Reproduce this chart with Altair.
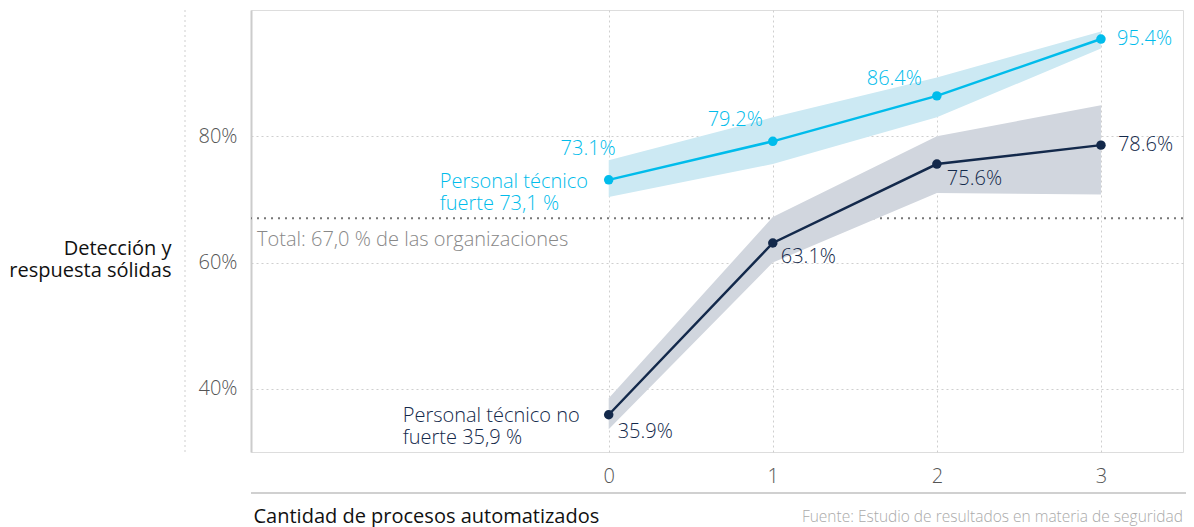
import altair as alt
import pandas as pd

# ---- data ----
steps = [0, 1, 2, 3]
strong = [73.1, 79.2, 86.4, 95.4]
strong_lo = [70.4, 75.6, 83.0, 93.9]
strong_hi = [76.2, 83.0, 89.3, 96.6]
weak = [35.9, 63.1, 75.6, 78.6]
weak_lo = [33.6, 60.0, 71.0, 70.8]
weak_hi = [38.5, 67.2, 80.0, 84.9]
total_value = [67.0]
x_ticks = [0, 1, 2, 3]
y_ticks = [40, 60, 80]

CYAN = "#00bceb"
NAVY = "#13294b"
CYAN_BAND = "#cce9f3"
NAVY_BAND = "#d1d6de"
GRID = "#cfcfcf"
FONT = "Open Sans"
FS = 20
FW = 300

W, H = 932, 442

df_s = pd.DataFrame({"x": steps, "v": strong, "lo": strong_lo, "hi": strong_hi,
                     "label": [f"{v:.1f}%" for v in strong]})
df_w = pd.DataFrame({"x": steps, "v": weak, "lo": weak_lo, "hi": weak_hi,
                     "label": [f"{v:.1f}%" for v in weak]})
df_t = pd.DataFrame({"v": total_value})

x_scale = alt.Scale(domain=[-2.18, 3.5], nice=False, zero=False)
y_scale = alt.Scale(domain=[30, 100], nice=False, zero=False)

x_axis = alt.Axis(values=x_ticks, grid=True, gridDash=[2, 3], gridColor=GRID, gridWidth=1,
                  domain=False, ticks=False, labelPadding=14, labelFontSize=FS,
                  labelFontWeight=FW, labelColor="#555555", labelFont=FONT,
                  title="Cantidad de procesos automatizados", titleFont=FONT,
                  titleFontSize=FS, titleFontWeight=400, titleColor="#111111",
                  titleAlign="left", titleX=2, titleY=64, titleBaseline="middle",
                  titleAnchor="start")
y_axis = alt.Axis(values=y_ticks, grid=True, gridDash=[2, 3], gridColor=GRID, gridWidth=1,
                  domain=True, domainColor="#cccccc", domainWidth=2, ticks=False,
                  labelPadding=14, labelFontSize=FS, labelFontWeight=FW,
                  labelColor="#555555", labelFont=FONT,
                  labelExpr="datum.value + '%'",
                  title=["Detección y", "respuesta sólidas"], titleFont=FONT,
                  titleFontSize=FS, titleFontWeight=400, titleColor="#111111",
                  titleAngle=0, titleAlign="right", titleBaseline="middle",
                  titleX=-80, titleY=238, titleLineHeight=22)

X = alt.X("x:Q", scale=x_scale, axis=x_axis)
Y = alt.Y("v:Q", scale=y_scale, axis=y_axis)


def series_layers(df, line_color, band_color):
    base = alt.Chart(df).encode(x=X)
    band = base.mark_area(color=band_color, opacity=1).encode(
        y=alt.Y("lo:Q", scale=y_scale, axis=y_axis), y2="hi:Q")
    line = base.mark_line(color=line_color, strokeWidth=2.5).encode(y=Y)
    pts = base.mark_circle(color=line_color, size=90, opacity=1).encode(y=Y)
    return [band, line, pts]


def label(df, idx, color, align, dx, dy):
    return alt.Chart(df).transform_filter(alt.datum.x == idx).mark_text(
        color=color, align=align, baseline="middle", dx=dx, dy=dy,
        fontSize=FS, fontWeight=FW, font=FONT).encode(x=X, y=Y, text="label:N")


total_rule = alt.Chart(df_t).mark_rule(color="#777777", strokeWidth=2,
                                       strokeDash=[2, 5]).encode(
    y=alt.Y("v:Q", scale=y_scale, axis=y_axis))
total_text = alt.Chart(df_t).mark_text(
    text="Total: 67,0 % de las organizaciones", color="#888888", align="left",
    baseline="middle", dy=22, fontSize=FS, fontWeight=FW, font=FONT).encode(
    x=alt.value(6), y=alt.Y("v:Q", scale=y_scale, axis=y_axis))

left_rule = alt.Chart(df_t).mark_rule(color=GRID, strokeDash=[2, 3], strokeWidth=1).encode(
    x=alt.value(-66), y=alt.value(0), y2=alt.value(H))
bottom_rule = alt.Chart(df_t).mark_rule(color="#d0d0d0", strokeWidth=2).encode(
    x=alt.value(0), x2=alt.value(W + 3), y=alt.value(H + 41))
source = alt.Chart(df_t).mark_text(
    text="Fuente: Estudio de resultados en materia de seguridad", color="#aaaaaa",
    align="right", baseline="middle", fontSize=15.5, fontWeight=FW, font=FONT).encode(
    x=alt.value(W), y=alt.value(H + 65))

ann_strong = alt.Chart(df_s).transform_filter(alt.datum.x == 0).mark_text(
    text=["Personal técnico", "fuerte 73,1 %"], color=CYAN, align="left",
    baseline="middle", dx=-169, dy=2, lineHeight=22, fontSize=FS, fontWeight=FW,
    font=FONT).encode(x=X, y=Y)
ann_weak = alt.Chart(df_w).transform_filter(alt.datum.x == 0).mark_text(
    text=["Personal técnico no", "fuerte 35,9 %"], color=NAVY, align="left",
    baseline="middle", dx=-206, dy=1, lineHeight=22, fontSize=FS, fontWeight=FW,
    font=FONT).encode(x=X, y=Y)

layers = [left_rule, total_rule]
layers += series_layers(df_w, NAVY, NAVY_BAND)
layers += series_layers(df_s, CYAN, CYAN_BAND)
layers += [
    label(df_s, 0, CYAN, "right", 7, -31),
    label(df_s, 1, CYAN, "right", -10, -21),
    label(df_s, 2, CYAN, "right", -15, -17),
    label(df_s, 3, CYAN, "left", 16, 0),
    label(df_w, 0, NAVY, "left", 9, 17),
    label(df_w, 1, NAVY, "left", 8, 14),
    label(df_w, 2, NAVY, "left", 10, 15),
    label(df_w, 3, NAVY, "left", 17, 0),
    total_text, ann_strong, ann_weak, bottom_rule, source,
]

chart = alt.layer(*layers).properties(
    width=W, height=H,
    autosize=alt.AutoSizeParams(type="none"),
    padding={"left": 243, "top": 2, "right": 3, "bottom": 75},
).configure_view(strokeWidth=0, stroke="transparent").configure(background="white")

chart.save("out.html", embed_options={"renderer": "svg", "actions": False})
